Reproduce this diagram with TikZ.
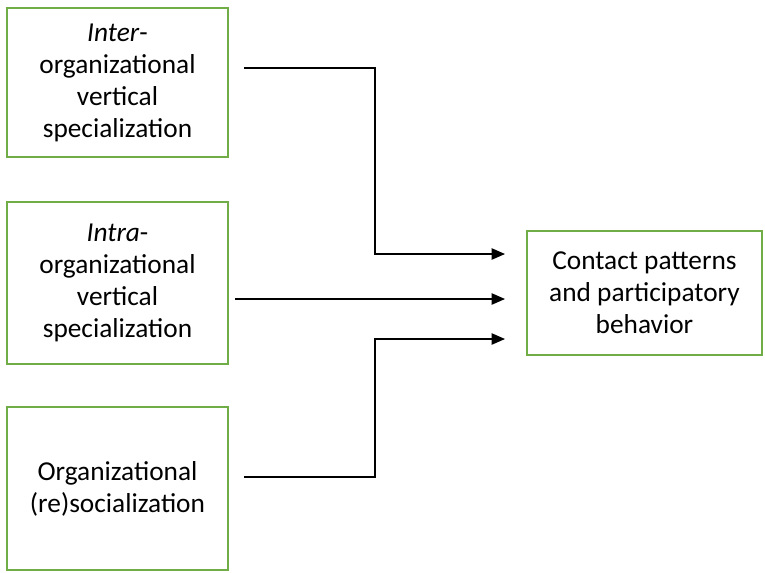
\documentclass[tikz,border=0pt]{standalone}
\usepackage{fontspec}
\setmainfont{Carlito}
\usetikzlibrary{arrows.meta}
\definecolor{boxgreen}{RGB}{112,173,71}

\begin{document}
\begin{tikzpicture}[x=0.75pt, y=-0.75pt]
  \tikzset{every node/.style={draw=boxgreen, line width=1.5pt, align=center, inner sep=0pt, font=\fontsize{20.5}{24}\selectfont}}
  \useasboundingbox (0,0) rectangle (765,572);
  \node[minimum width=165.75pt, minimum height=111.75pt] (inter) at (117.5,82.5) {\textit{Inter}-\\organizational\\vertical\\specialization};
  \node[minimum width=165.75pt, minimum height=121.5pt] (intra) at (117.5,283) {\textit{Intra}-\\organizational\\vertical\\specialization};
  \node[minimum width=165.75pt, minimum height=122.25pt] (resoc) at (117.5,488.5) {Organizational\\(re)socialization};
  \node[minimum width=176.25pt, minimum height=93pt] (contact) at (644.5,293) {Contact patterns\\and participatory\\behavior};

  % connector ends
  \coordinate (s1) at (244,68);
  \coordinate (s2) at (235,299);
  \coordinate (s3) at (244,477);
  \coordinate (e1) at (505,254);
  \coordinate (e2) at (505,299);
  \coordinate (e3) at (505,339);
  \coordinate (b1) at (375,254);
  \coordinate (b3) at (375,339);

  \tikzset{arrowstyle/.style={-{Triangle[length=10pt,width=8.5pt]}, line width=0.9pt}};
  \draw [arrowstyle] (s1) -| (b1) -- (e1);
  \draw [arrowstyle] (s2) -- (e2);
  \draw [arrowstyle] (s3) -| (b3) -- (e3);
\end{tikzpicture}
\end{document}
